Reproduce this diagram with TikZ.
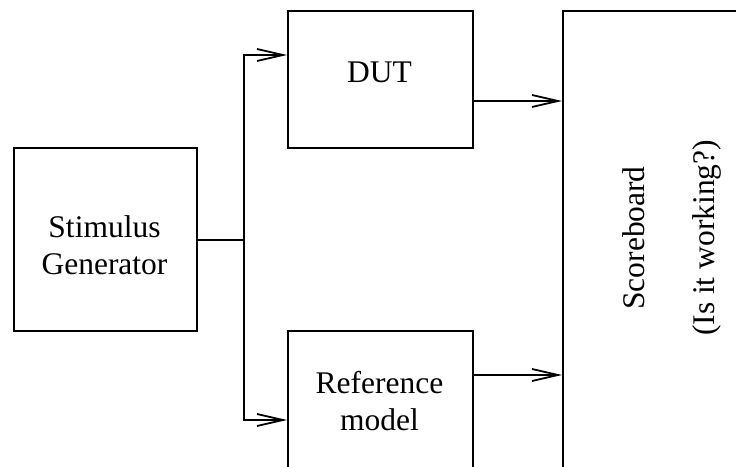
\documentclass[tikz,border=0pt]{standalone}
\usepackage{fontspec}
\setmainfont{Liberation Serif}
\usetikzlibrary{arrows.meta,calc}
\begin{document}
\begin{tikzpicture}[x=1pt,y=1pt,
  blk/.style={draw,line width=2.1pt,rectangle,inner sep=0pt,anchor=north west},
  lbl/.style={anchor=base,inner sep=0pt,font=\fontsize{31.5}{37}\selectfont},
  wire/.style={line width=2pt},
  arr/.style={wire,-{Straight Barb[length=26pt,width=12pt,line width=1.8pt]}}]
\useasboundingbox (0,0) rectangle (736,466);
\clip (0,0) rectangle (736,466);

% blocks
\node[blk,minimum width=183pt,minimum height=183pt] (stim) at (13,319) {};
\node[blk,minimum width=185pt,minimum height=137pt] (dut) at (287,456) {};
\node[blk,minimum width=185pt,minimum height=170pt] (ref) at (287,136) {};
\node[blk,minimum width=220pt,minimum height=500pt] (score) at (562,456) {};

% block texts
\node[lbl] (stimA) at (104.5,228) {Stimulus};
\node[lbl] (stimB) at (104.5,191) {Generator};
\node[lbl] (dutT) at (379.5,383) {DUT};
\node[lbl] (refA) at (379.5,73) {Reference};
\node[lbl] (refB) at (379.5,36) {model};
\node[lbl,rotate=90] (scoreA) at (644,228) {Scoreboard};
\node[lbl,rotate=90] (scoreB) at (714,228) {(Is it working?)};

% ports
\coordinate (junc) at ($(stim.east)+(46,0)$);
\coordinate (dutin) at ($(dut.north west)+(0,-45)$);
\coordinate (dutout) at ($(dut.north east)+(0,-91)$);
\coordinate (refin) at ($(ref.north west)+(0,-90)$);
\coordinate (refout) at ($(ref.north east)+(0,-45)$);

% connections
\draw[wire] (stim.east) -- (junc);
\draw[arr] (junc) |- (dutin);
\draw[arr] (junc) |- (refin);
\draw[arr] (dutout) -- (score.west |- dutout);
\draw[arr] (refout) -- (score.west |- refout);
\end{tikzpicture}
\end{document}
